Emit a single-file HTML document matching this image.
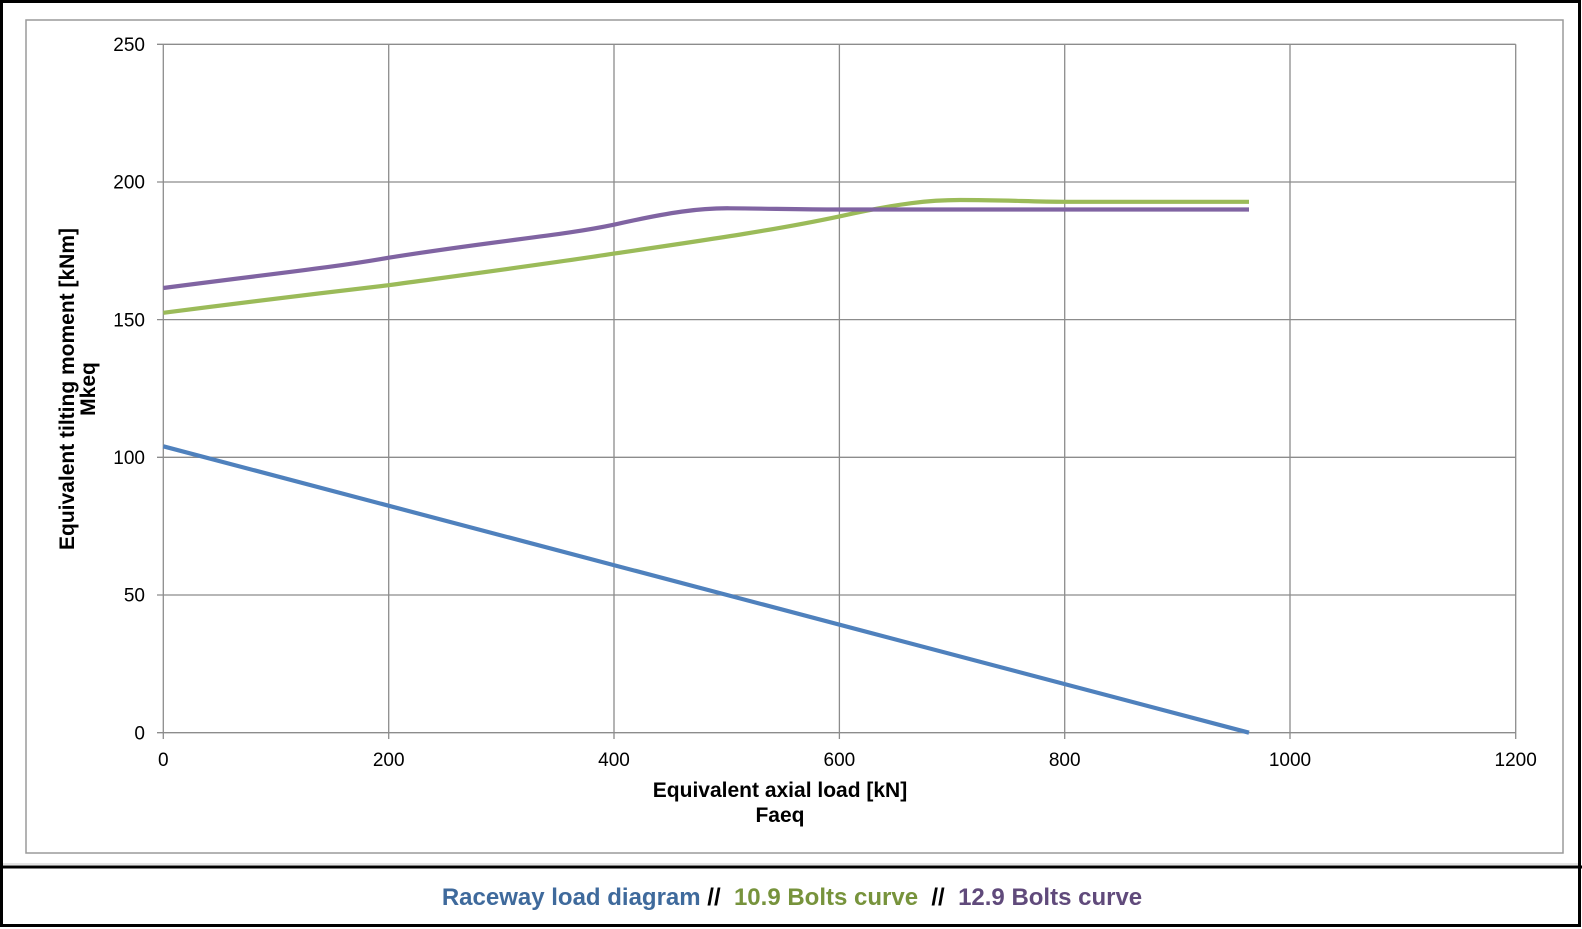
<!DOCTYPE html>
<html><head><meta charset="utf-8"><style>
html,body{margin:0;padding:0;background:#fff;}
svg{display:block;font-family:"Liberation Sans",Arial,sans-serif;}
</style></head><body>
<svg width="1582" height="929" viewBox="0 0 1582 929">
<rect x="0" y="0" width="1582" height="929" fill="#fff"/>
<rect x="1.5" y="1.5" width="1578" height="924" fill="none" stroke="#000" stroke-width="3"/>
<line x1="0" y1="867" x2="1582" y2="867" stroke="#000" stroke-width="3"/>
<line x1="3" y1="864" x2="1578" y2="864" stroke="#c8c8c8" stroke-width="1"/>
<rect x="26" y="20" width="1537" height="833" fill="none" stroke="#9a9a9a" stroke-width="1.5"/>
<g stroke="#8c8c8c" stroke-width="1.3">
<line x1="157" y1="44.3" x2="1515.7" y2="44.3"/>
<line x1="157" y1="182" x2="1515.7" y2="182"/>
<line x1="157" y1="319.6" x2="1515.7" y2="319.6"/>
<line x1="157" y1="457.3" x2="1515.7" y2="457.3"/>
<line x1="157" y1="595" x2="1515.7" y2="595"/>
<line x1="157" y1="732.7" x2="1515.7" y2="732.7"/>
<line x1="163.3" y1="44.3" x2="163.3" y2="739"/>
<line x1="388.7" y1="44.3" x2="388.7" y2="739"/>
<line x1="614" y1="44.3" x2="614" y2="739"/>
<line x1="839.4" y1="44.3" x2="839.4" y2="739"/>
<line x1="1064.7" y1="44.3" x2="1064.7" y2="739"/>
<line x1="1290" y1="44.3" x2="1290" y2="739"/>
<line x1="1515.7" y1="44.3" x2="1515.7" y2="739"/>
</g>
<g font-size="19" fill="#000" text-anchor="end">
<text x="145" y="51">250</text>
<text x="145" y="188.5">200</text>
<text x="145" y="326.5">150</text>
<text x="145" y="464">100</text>
<text x="145" y="601.5">50</text>
<text x="145" y="739.5">0</text>
</g>
<g font-size="19" fill="#000" text-anchor="middle">
<text x="163.3" y="766">0</text>
<text x="388.7" y="766">200</text>
<text x="614" y="766">400</text>
<text x="839.4" y="766">600</text>
<text x="1064.7" y="766">800</text>
<text x="1290" y="766">1000</text>
<text x="1515.7" y="766">1200</text>
</g>
<g font-size="21" font-weight="bold" fill="#000" text-anchor="middle">
<text x="780" y="797">Equivalent axial load [kN]</text>
<text x="780" y="822">Faeq</text>
<text transform="translate(74,389) rotate(-90)">Equivalent tilting moment [kNm]</text>
<text transform="translate(95,389) rotate(-90)">Mkeq</text>
</g>
<g fill="none" stroke-width="4.2" stroke-linecap="butt" stroke-linejoin="round">
<line x1="163.3" y1="446.3" x2="1249" y2="732.7" stroke="#4f81bd"/>
<path d="M163.3,312.8 C270,299 330,292 388.7,285.2 C500,270 560,262 614,253.6 C720,238 780,229 839.4,216.4 C900,203 930,200 960,200 C1000,200 1030,201.5 1064.7,201.8 L1249,201.8" stroke="#9bbb59"/>
<path d="M163.3,288 C270,274 330,268 388.7,257.7 C500,240 560,236 614,224.7 C670,212 700,208 730,208.3 C770,208.6 800,209.5 839.4,209.5 L1249,209.5" stroke="#8064a2"/>
</g>
<text x="792" y="905" font-size="24" font-weight="bold" text-anchor="middle" xml:space="preserve" style="white-space:pre"><tspan fill="#3f6a9c">Raceway load diagram</tspan><tspan fill="#000"> //  </tspan><tspan fill="#77933c">10.9 Bolts curve</tspan><tspan fill="#000">  //  </tspan><tspan fill="#604a7b">12.9 Bolts curve</tspan></text>
</svg>
</body></html>
